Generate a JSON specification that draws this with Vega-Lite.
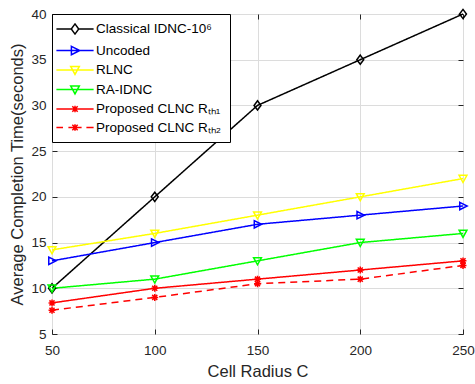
{
  "$schema": "https://vega.github.io/schema/vega-lite/v6.json",
  "width": 411,
  "height": 320,
  "autosize": "none",
  "padding": {"left": 52, "top": 14, "right": 12, "bottom": 50},
  "config": {
    "font": "Liberation Sans",
    "view": {"stroke": "#262626", "strokeWidth": 1},
    "axis": {
      "labelFont": "Liberation Sans",
      "titleFont": "Liberation Sans",
      "labelFontSize": 13.5,
      "titleFontSize": 16.5,
      "titleFontWeight": "normal",
      "labelColor": "#262626",
      "titleColor": "#262626",
      "domainColor": "#262626",
      "tickColor": "#262626",
      "gridColor": "#dcdcdc",
      "gridWidth": 1,
      "labelFlush": false
    },
    "legend": {
      "labelFont": "Liberation Sans",
      "labelFontSize": 13.5,
      "labelColor": "#000000"
    }
  },
  "data": {
    "values": [
      {"C": 50, "series": "Classical IDNC-10⁶", "time": 10},
      {"C": 100, "series": "Classical IDNC-10⁶", "time": 20},
      {"C": 150, "series": "Classical IDNC-10⁶", "time": 30},
      {"C": 200, "series": "Classical IDNC-10⁶", "time": 35},
      {"C": 250, "series": "Classical IDNC-10⁶", "time": 40},
      {"C": 50, "series": "Uncoded", "time": 13},
      {"C": 100, "series": "Uncoded", "time": 15},
      {"C": 150, "series": "Uncoded", "time": 17},
      {"C": 200, "series": "Uncoded", "time": 18},
      {"C": 250, "series": "Uncoded", "time": 19},
      {"C": 50, "series": "RLNC", "time": 14.2},
      {"C": 100, "series": "RLNC", "time": 16},
      {"C": 150, "series": "RLNC", "time": 18},
      {"C": 200, "series": "RLNC", "time": 20},
      {"C": 250, "series": "RLNC", "time": 22},
      {"C": 50, "series": "RA-IDNC", "time": 10},
      {"C": 100, "series": "RA-IDNC", "time": 11},
      {"C": 150, "series": "RA-IDNC", "time": 13},
      {"C": 200, "series": "RA-IDNC", "time": 15},
      {"C": 250, "series": "RA-IDNC", "time": 16},
      {"C": 50, "series": "Proposed CLNC Rₜₕ₁", "time": 8.4},
      {"C": 100, "series": "Proposed CLNC Rₜₕ₁", "time": 10},
      {"C": 150, "series": "Proposed CLNC Rₜₕ₁", "time": 11},
      {"C": 200, "series": "Proposed CLNC Rₜₕ₁", "time": 12},
      {"C": 250, "series": "Proposed CLNC Rₜₕ₁", "time": 13},
      {"C": 50, "series": "Proposed CLNC Rₜₕ₂", "time": 7.6},
      {"C": 100, "series": "Proposed CLNC Rₜₕ₂", "time": 9},
      {"C": 150, "series": "Proposed CLNC Rₜₕ₂", "time": 10.5},
      {"C": 200, "series": "Proposed CLNC Rₜₕ₂", "time": 11},
      {"C": 250, "series": "Proposed CLNC Rₜₕ₂", "time": 12.5}
    ]
  },
  "layer": [
    {
      "mark": {"type": "line", "strokeWidth": 1.5},
      "encoding": {
        "x": {"field": "C", "type": "quantitative", "scale": {"domain": [50, 250], "nice": false},
          "axis": {"orient": "bottom", "title": "Cell Radius C", "values": [50, 100, 150, 200, 250], "grid": true, "tickSize": -5, "labelPadding": 14, "titlePadding": 7, "domain": false}},
        "y": {"field": "time", "type": "quantitative", "scale": {"domain": [5, 40], "nice": false, "zero": false},
          "axis": {"orient": "left", "title": "Average Completion Time(seconds)", "values": [5, 10, 15, 20, 25, 30, 35, 40], "grid": true, "tickSize": -5, "labelPadding": 11, "titlePadding": 5, "domain": false}},
        "color": {"field": "series", "type": "nominal", "legend": null,
          "scale": {"domain": ["Classical IDNC-10⁶", "Uncoded", "RLNC", "RA-IDNC", "Proposed CLNC Rₜₕ₁", "Proposed CLNC Rₜₕ₂"],
                    "range": ["#000000", "#0000ff", "#ffff00", "#00ff00", "#ff0000", "#ff0000"]}},
        "strokeDash": {"field": "series", "type": "nominal", "legend": null,
          "scale": {"domain": ["Classical IDNC-10⁶", "Uncoded", "RLNC", "RA-IDNC", "Proposed CLNC Rₜₕ₁", "Proposed CLNC Rₜₕ₂"],
                    "range": [[1, 0], [1, 0], [1, 0], [1, 0], [1, 0], [7, 5]]}}
      }
    },
    {
      "mark": {"type": "point", "filled": false, "strokeWidth": 1.5, "size": 85, "opacity": 1},
      "encoding": {
        "x": {"field": "C", "type": "quantitative", "axis": null},
        "y": {"field": "time", "type": "quantitative", "axis": null},
        "color": {"field": "series", "type": "nominal", "legend": null,
          "scale": {"domain": ["Classical IDNC-10⁶", "Uncoded", "RLNC", "RA-IDNC", "Proposed CLNC Rₜₕ₁", "Proposed CLNC Rₜₕ₂"],
                    "range": ["#000000", "#0000ff", "#ffff00", "#00ff00", "#ff0000", "#ff0000"]}},
        "shape": {"field": "series", "type": "nominal", "legend": null,
          "scale": {"domain": ["Classical IDNC-10⁶", "Uncoded", "RLNC", "RA-IDNC", "Proposed CLNC Rₜₕ₁", "Proposed CLNC Rₜₕ₂"],
                    "range": ["M0,-1L0.75,0L0,1L-0.75,0Z", "M-0.7,-0.8L0.9,0L-0.7,0.8Z", "M-0.85,-0.7L0.85,-0.7L0,0.85Z", "M-0.85,-0.7L0.85,-0.7L0,0.85Z",
                              "M0,-0.75L0,0.75M-0.75,0L0.75,0M-0.55,-0.55L0.55,0.55M-0.55,0.55L0.55,-0.55",
                              "M0,-0.75L0,0.75M-0.75,0L0.75,0M-0.55,-0.55L0.55,0.55M-0.55,0.55L0.55,-0.55"]}}
      }
    },
    {
      "transform": [{"filter": "datum.time < 0"}],
      "mark": {"type": "point", "filled": false, "strokeWidth": 1.5, "opacity": 1},
      "encoding": {
        "x": {"field": "C", "type": "quantitative",
          "axis": {"orient": "top", "labels": false, "title": null, "values": [50, 100, 150, 200, 250], "grid": false, "tickSize": -5, "domain": false}},
        "y": {"field": "time", "type": "quantitative",
          "axis": {"orient": "right", "labels": false, "title": null, "values": [5, 10, 15, 20, 25, 30, 35, 40], "grid": false, "tickSize": -5, "domain": false}},
        "color": {"field": "series", "type": "nominal",
          "scale": {"domain": ["Classical IDNC-10⁶", "Uncoded", "RLNC", "RA-IDNC", "Proposed CLNC Rₜₕ₁", "Proposed CLNC Rₜₕ₂"],
                    "range": ["#000000", "#0000ff", "#ffff00", "#00ff00", "#ff0000", "#ff0000"]},
          "legend": {"title": null, "orient": "top-left", "offset": 0, "padding": 8, "strokeColor": "#000000", "fillColor": "#ffffff",
                     "symbolSize": 144, "symbolOffset": 8, "symbolStrokeWidth": 1.5, "labelOffset": 14, "rowPadding": 4.5, "symbolFillColor": "transparent"}},
        "shape": {"field": "series", "type": "nominal",
          "scale": {"domain": ["Classical IDNC-10⁶", "Uncoded", "RLNC", "RA-IDNC", "Proposed CLNC Rₜₕ₁", "Proposed CLNC Rₜₕ₂"],
                    "range": ["M-3.1,0L-0.68,0M0.68,0L3.1,0M0,-0.85L0.62,0L0,0.85L-0.62,0Z",
                              "M-3.1,0L3.1,0M-0.6,-0.7L0.8,0L-0.6,0.7Z",
                              "M-3.1,0L3.1,0M-0.72,-0.6L0.72,-0.6L0,0.72Z",
                              "M-3.1,0L3.1,0M-0.72,-0.6L0.72,-0.6L0,0.72Z",
                              "M-3.1,0L3.1,0M0,-0.55L0,0.55M-0.45,-0.45L0.45,0.45M-0.45,0.45L0.45,-0.45",
                              "M-3.1,0L-2.0,0M-1.1,0L1.1,0M1.9,0L3.1,0M0,-0.55L0,0.55M-0.45,-0.45L0.45,0.45M-0.45,0.45L0.45,-0.45"]}}
      }
    }
  ],
  "resolve": {
    "scale": {"color": "independent", "shape": "independent", "strokeDash": "independent"},
    "axis": {"x": "independent", "y": "independent"},
    "legend": {"color": "independent", "shape": "independent", "strokeDash": "independent"}
  }
}
